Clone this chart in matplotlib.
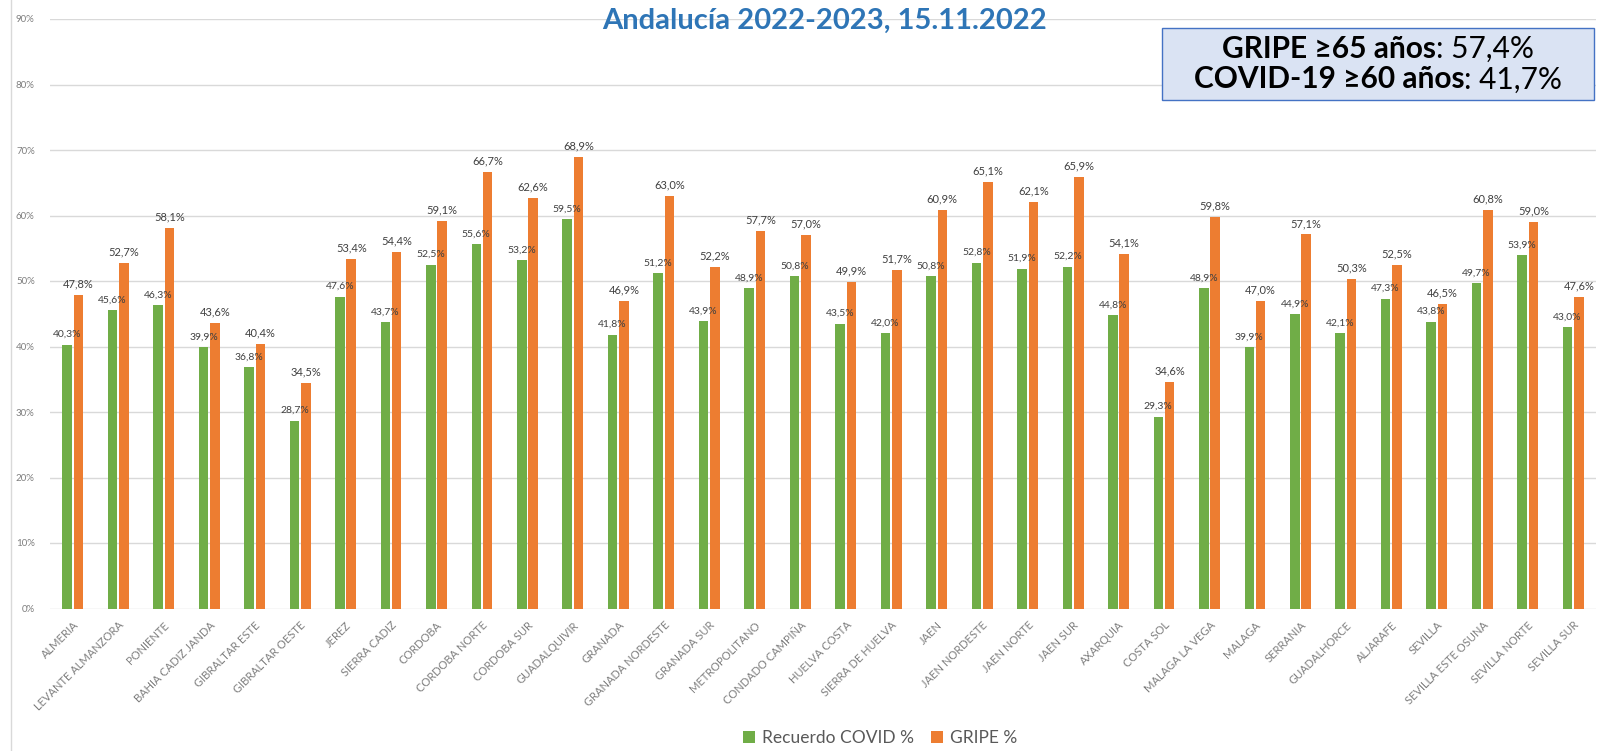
import matplotlib.pyplot as plt
from matplotlib.patches import Rectangle
from matplotlib.lines import Line2D
from matplotlib.offsetbox import TextArea, HPacker, VPacker, AnchoredOffsetbox
import numpy as np

areas = ["ALMERIA", "LEVANTE ALMANZORA", "PONIENTE", "BAHIA CADIZ JANDA", "GIBRALTAR ESTE",
         "GIBRALTAR OESTE", "JEREZ", "SIERRA CADIZ", "CORDOBA", "CORDOBA NORTE", "CORDOBA SUR",
         "GUADALQUIVIR", "GRANADA", "GRANADA NORDESTE", "GRANADA SUR", "METROPOLITANO",
         "CONDADO CAMPIÑA", "HUELVA COSTA", "SIERRA DE HUELVA", "JAEN", "JAEN NORDESTE",
         "JAEN NORTE", "JAEN SUR", "AXARQUIA", "COSTA SOL", "MALAGA LA VEGA", "MALAGA",
         "SERRANIA", "GUADALHORCE", "ALJARAFE", "SEVILLA", "SEVILLA ESTE OSUNA",
         "SEVILLA NORTE", "SEVILLA SUR"]
covid = [40.3, 45.6, 46.3, 39.9, 36.8, 28.7, 47.6, 43.7, 52.5, 55.6, 53.2, 59.5, 41.8, 51.2,
         43.9, 48.9, 50.8, 43.5, 42.0, 50.8, 52.8, 51.9, 52.2, 44.8, 29.3, 48.9, 39.9, 44.9,
         42.1, 47.3, 43.8, 49.7, 53.9, 43.0]
gripe = [47.8, 52.7, 58.1, 43.6, 40.4, 34.5, 53.4, 54.4, 59.1, 66.7, 62.6, 68.9, 46.9, 63.0,
         52.2, 57.7, 57.0, 49.9, 51.7, 60.9, 65.1, 62.1, 65.9, 54.1, 34.6, 59.8, 47.0, 57.1,
         50.3, 52.5, 46.5, 60.8, 59.0, 47.6]
series_names = ["Recuerdo COVID %", "GRIPE %"]
y_ticks = [0, 10, 20, 30, 40, 50, 60, 70, 80, 90]
title = "Andalucía 2022-2023, 15.11.2022"
box_lines = [("GRIPE ≥65 años", ": 57,4%"), ("COVID-19 ≥60 años", ": 41,7%")]

GREEN = "#70AD47"
ORANGE = "#ED7D31"
FONT = ["Lato", "DejaVu Sans"]
plt.rcParams["font.family"] = FONT


def pct(v):
    return f"{v:.1f}".replace(".", ",") + "%"


fig = plt.figure(figsize=(16.12, 7.51), dpi=100)
ax = fig.add_axes([50 / 1612, 1 - 608.5 / 751, 1546 / 1612, 589.5 / 751])

x = np.arange(len(areas))
w = 0.21
b1 = ax.bar(x - 0.125, covid, w, color=GREEN, label=series_names[0], zorder=3)
b2 = ax.bar(x + 0.125, gripe, w, color=ORANGE, label=series_names[1], zorder=3)

ax.bar_label(b1, labels=[pct(v) for v in covid], padding=4, fontsize=7.5, color="#404040", zorder=4)
ax.bar_label(b2, labels=[pct(v) for v in gripe], padding=4, fontsize=8, color="#404040", zorder=4)

ax.set_xlim(-0.5, len(areas) - 0.5)
ax.set_ylim(0, 90)
ax.set_yticks(y_ticks)
ax.set_yticklabels([f"{t}%" for t in y_ticks], fontsize=7, color="#7f7f7f")
ax.set_xticks(x)
ax.set_xticklabels(areas, rotation=45, ha="right", rotation_mode="anchor",
                   fontsize=8, color="#7f7f7f")
ax.tick_params(axis="both", length=0)
ax.tick_params(axis="y", pad=11)
ax.tick_params(axis="x", pad=8)
ax.grid(axis="y", color="#d9d9d9", linewidth=1, zorder=0)
for s in ax.spines.values():
    s.set_visible(False)

fig.text(825 / 1612, 1 - 21 / 751, title, ha="center", va="center", fontsize=21,
         fontweight="bold", color="#2E75B6")

# summary box
fig.patches.append(Rectangle((1162 / 1612, 1 - 100 / 751), 432 / 1612, 72 / 751,
                             transform=fig.transFigure, facecolor="#DAE3F3",
                             edgecolor="#4472C4", linewidth=1, zorder=5))
rows = []
for bold, rest in box_lines:
    rows.append(HPacker(children=[
        TextArea(bold, textprops=dict(fontsize=21.5, fontweight="bold", color="black", family=FONT)),
        TextArea(rest, textprops=dict(fontsize=21.5, color="black", family=FONT))],
        pad=0, sep=0, align="baseline"))
box = AnchoredOffsetbox(loc="center", child=VPacker(children=rows, pad=0, sep=2, align="center"),
                        frameon=False, bbox_to_anchor=(1378 / 1612, 1 - 64 / 751),
                        bbox_transform=fig.transFigure, pad=0, borderpad=0)
box.set_zorder(6)
fig.add_artist(box)

fig.add_artist(Line2D([11 / 1612, 11 / 1612], [0, 1], color="#d9d9d9", linewidth=1))

fig.legend(handles=[b1, b2], labels=series_names, loc="center",
           bbox_to_anchor=(880 / 1612, 1 - 738 / 751), ncol=2, frameon=False,
           fontsize=12.5, labelcolor="#595959", handlelength=0.7, handleheight=0.7,
           columnspacing=1.0, handletextpad=0.4)

fig.savefig("out.png", dpi=100, facecolor="white")
